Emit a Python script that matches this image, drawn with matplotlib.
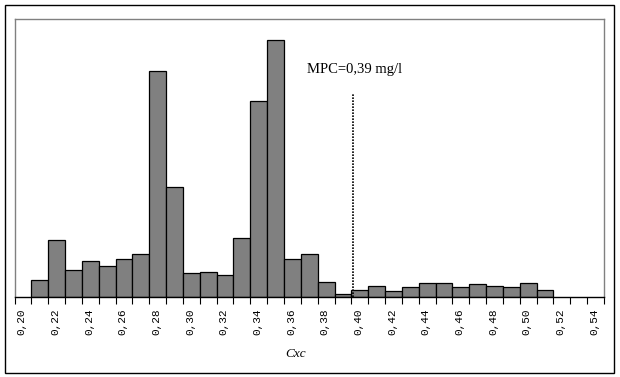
import matplotlib
matplotlib.use("Agg")
import matplotlib.pyplot as plt
import matplotlib.transforms as mtransforms
from matplotlib.patches import Rectangle

# histogram bins (left edge) and heights
bin_left = [0.21, 0.22, 0.23, 0.24, 0.25, 0.26, 0.27, 0.28, 0.29, 0.30,
            0.31, 0.32, 0.33, 0.34, 0.35, 0.36, 0.37, 0.38, 0.39, 0.40,
            0.41, 0.42, 0.43, 0.44, 0.45, 0.46, 0.47, 0.48, 0.49, 0.50, 0.51]
heights = [16.7, 56.7, 26.7, 35.7, 30.7, 37.7, 42.7, 225.7, 109.7, 23.7,
           24.7, 21.7, 58.7, 195.7, 256.7, 37.7, 42.7, 14.7, 2.7, 6.7,
           10.7, 5.7, 9.7, 13.7, 13.7, 9.7, 12.7, 10.7, 9.7, 13.7, 6.7]
bin_width = 0.01

tick_pos = [0.20, 0.21, 0.22, 0.23, 0.24, 0.25, 0.26, 0.27, 0.28, 0.29,
            0.30, 0.31, 0.32, 0.33, 0.34, 0.35, 0.36, 0.37, 0.38, 0.39,
            0.40, 0.41, 0.42, 0.43, 0.44, 0.45, 0.46, 0.47, 0.48, 0.49,
            0.50, 0.51, 0.52, 0.53, 0.54, 0.55]
label_pos = [0.20, 0.22, 0.24, 0.26, 0.28, 0.30, 0.32, 0.34, 0.36,
             0.38, 0.40, 0.42, 0.44, 0.46, 0.48, 0.50, 0.52, 0.54]
label_txt = ["0,20", "0,22", "0,24", "0,26", "0,28", "0,30", "0,32", "0,34", "0,36",
             "0,38", "0,40", "0,42", "0,44", "0,46", "0,48", "0,50", "0,52", "0,54"]

mpc_x = 0.401
mpc_top = 202.7
mpc_label = "MPC=0,39 mg/l"

fig = plt.figure(figsize=(6.2, 3.77), dpi=100)
ax = fig.add_axes([0.0234, 0.213, 0.9508, 0.736])

ax.bar(bin_left, heights, width=bin_width, align="edge",
       color="#808080", edgecolor="black", linewidth=0.9)

ax.set_xlim(0.20, 0.55)
ax.set_ylim(0, 277.4)

# unlabeled ticks on every bin edge, labels every 0.02
ax.set_xticks(tick_pos, minor=True)
ax.set_xticks(label_pos)
ax.set_xticklabels(label_txt, rotation=90, family="Liberation Mono", fontsize=8)
ax.tick_params(axis="x", which="both", direction="out", length=5, width=0.8,
               color="black", pad=3.5)
ax.set_yticks([])

offset = mtransforms.ScaledTranslation(7 / 100, 0, fig.dpi_scale_trans)
for lab in ax.get_xticklabels():
    lab.set_transform(lab.get_transform() + offset)

for side in ["top", "left", "right"]:
    ax.spines[side].set_color("#808080")
    ax.spines[side].set_linewidth(1.0)
ax.spines["bottom"].set_color("black")
ax.spines["bottom"].set_linewidth(1.0)

# MPC marker
ax.plot([mpc_x, mpc_x], [0, mpc_top], color="black", lw=1.2,
        linestyle=(0, (1, 0.8)))
ax.text(0.3736, 224, mpc_label, family="Liberation Serif", fontsize=10.5,
        ha="left", va="baseline")

fig.text(295.7 / 620, 1 - 357.3 / 377, "Cxc", family="Liberation Serif",
         style="italic", fontsize=9.5, ha="center", va="baseline")

# outer frame
fig.patches.append(Rectangle((0.0085, 0.0119), 0.9823, 0.9741,
                             transform=fig.transFigure, fill=False,
                             edgecolor="black", linewidth=1.0))

fig.savefig("out.png", dpi=100)
